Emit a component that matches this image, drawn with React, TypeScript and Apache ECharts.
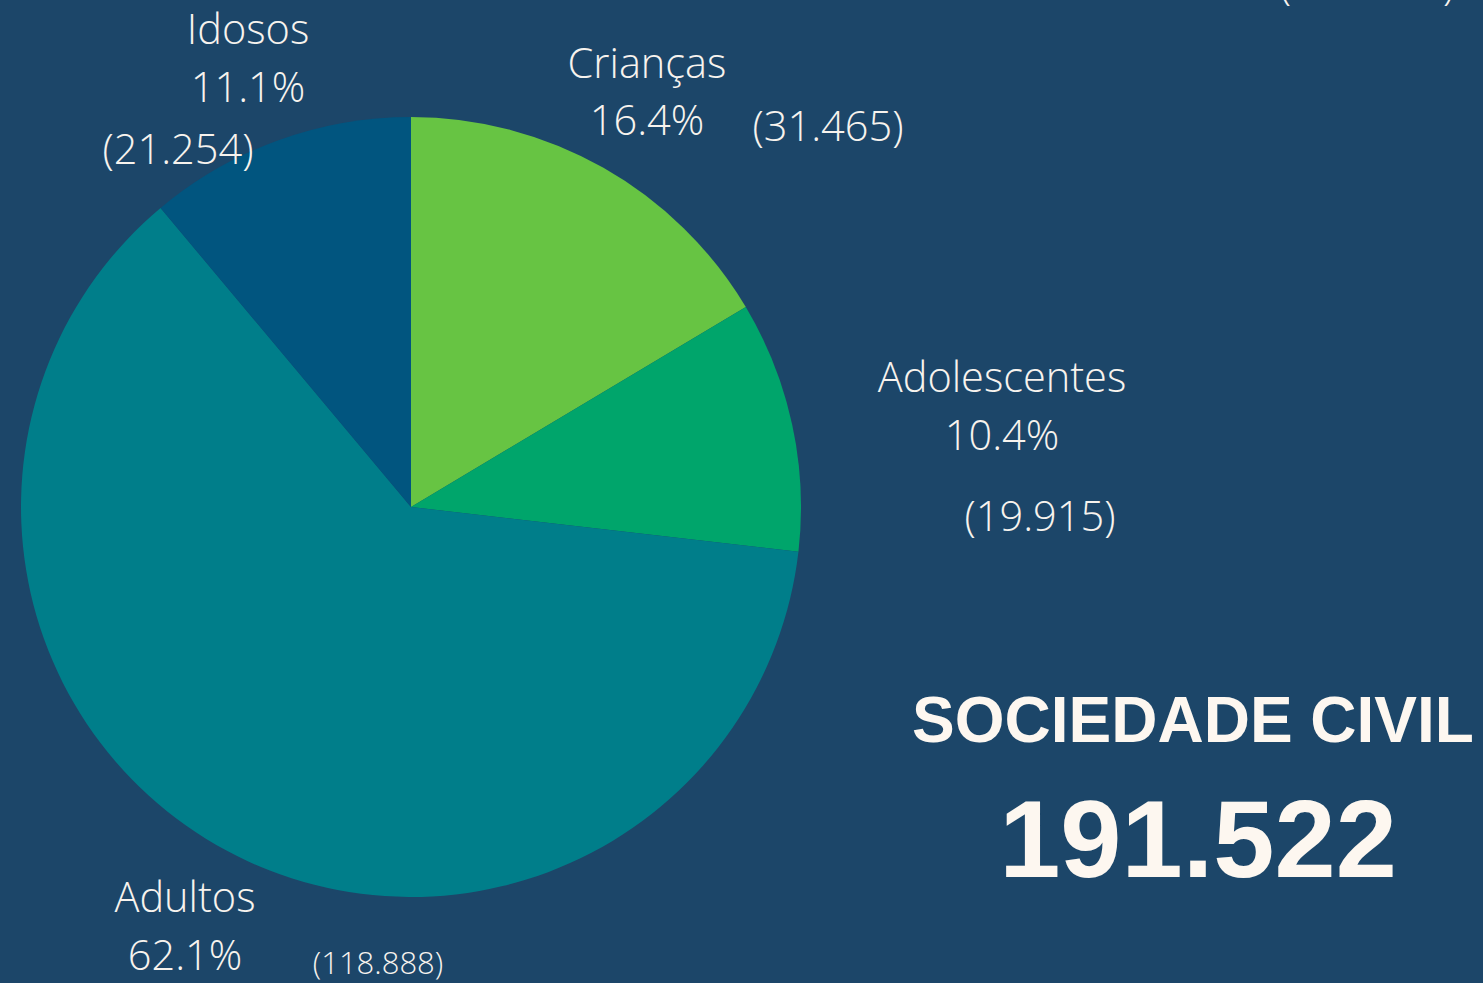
import React, { useEffect, useRef } from "react";
import * as echarts from "echarts";

const categories = ["Crianças", "Adolescentes", "Adultos", "Idosos"];
const values = [31465, 19915, 118888, 21254];
const percentLabels = ["16.4%", "10.4%", "62.1%", "11.1%"];
const countLabels = ["(31.465)", "(19.915)", "(118.888)", "(21.254)"];
const totalLabel = "191.522";
const titleLabel = "SOCIEDADE CIVIL";
const clippedLabel = "(000.000)";

const colors = ["#67c443", "#00a56b", "#007e8a", "#01557f"];

// label layout: [nameX, nameY, pctX, pctY, countX, countY, countSize]
const labelLayout = [
  [647, 62, 647, 119, 828, 125, 41.5],
  [1002, 376, 1002, 434, 1040, 515, 41.5],
  [185, 896, 185, 954, 378, 962, 31],
  [248, 28, 248, 86, 178, 148, 41.5],
];

const FONT = "'Open Sans', 'Noto Sans', sans-serif";
const TEXT_COLOR = "#f7f3ee";

export default function App() {
  const ref = useRef<HTMLDivElement>(null);
  useEffect(() => {
    document.body.style.margin = "0";
    if (!ref.current) return;
    const chart = echarts.init(ref.current, undefined, { renderer: "svg" });
    const graphics: any[] = [];
    categories.forEach((name, i) => {
      const [nx, ny, px, py, cx, cy, cs] = labelLayout[i];
      const base = {
        fill: TEXT_COLOR,
        fontFamily: FONT,
        fontWeight: 300,
        align: "center",
        verticalAlign: "middle",
      };
      graphics.push({ type: "text", z: 100, x: nx, y: ny, style: { ...base, text: name, fontSize: 41.5 } });
      graphics.push({ type: "text", z: 100, x: px, y: py, style: { ...base, text: percentLabels[i], fontSize: 41.5 } });
      graphics.push({ type: "text", z: 100, x: cx, y: cy, style: { ...base, text: countLabels[i], fontSize: cs } });
    });
    graphics.push({
      type: "text",
      z: 100,
      x: 1367,
      y: 4,
      style: {
        text: clippedLabel,
        fill: TEXT_COLOR,
        fontFamily: FONT,
        fontWeight: 300,
        fontSize: 41.5,
        align: "center",
        verticalAlign: "bottom",
      },
    });
    graphics.push({
      type: "text",
      z: 100,
      x: 1193,
      y: 720,
      style: {
        text: titleLabel,
        fill: "#fdf7f0",
        fontFamily: "'Liberation Sans', Arial, sans-serif",
        fontWeight: "bold",
        fontSize: 64,
        align: "center",
        verticalAlign: "middle",
      },
    });
    graphics.push({
      type: "text",
      z: 100,
      x: 1198,
      y: 838,
      style: {
        text: totalLabel,
        fill: "#fdf7f0",
        fontFamily: "'Liberation Sans', Arial, sans-serif",
        fontWeight: "bold",
        fontSize: 110,
        align: "center",
        verticalAlign: "middle",
      },
    });
    chart.setOption({
      animation: false,
      backgroundColor: "#1c4669",
      series: [
        {
          type: "pie",
          z: 1,
          center: [411, 507],
          radius: [0, 390],
          startAngle: 90,
          clockwise: true,
          label: { show: false },
          labelLine: { show: false },
          emphasis: { disabled: true },
          itemStyle: { borderWidth: 0 },
          data: categories.map((name, i) => ({
            name,
            value: values[i],
            itemStyle: { color: colors[i] },
          })),
        },
      ],
      graphic: graphics,
    });
    return () => chart.dispose();
  }, []);
  return <div ref={ref} style={{ width: 1483, height: 983 }} />;
}
